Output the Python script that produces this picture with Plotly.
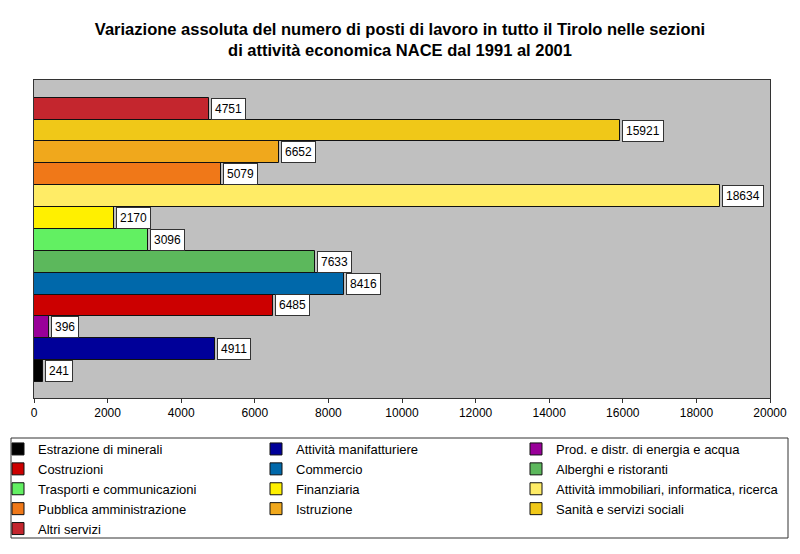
import plotly.graph_objects as go

categories = [
    "Estrazione di minerali",
    "Attività manifatturiere",
    "Prod. e distr. di energia e acqua",
    "Costruzioni",
    "Commercio",
    "Alberghi e ristoranti",
    "Trasporti e communicazioni",
    "Finanziaria",
    "Attività immobiliari, informatica, ricerca",
    "Pubblica amministrazione",
    "Istruzione",
    "Sanità e servizi sociali",
    "Altri servizi",
]
values = [241, 4911, 396, 6485, 8416, 7633, 3096, 2170, 18634, 5079, 6652, 15921, 4751]
colors = ["#000000", "#000099", "#990099", "#CC0000", "#0068AA", "#5CB85C",
          "#62F062", "#FFF000", "#FFEC66", "#F07818", "#F0A81C", "#F0C818", "#C4262E"]
x_ticks = [0, 2000, 4000, 6000, 8000, 10000, 12000, 14000, 16000, 18000, 20000]

FONT = "Liberation Sans, Arial, sans-serif"
legend_ids = ["legend", "legend2", "legend3"]

fig = go.Figure()
for i, (name, v, c) in enumerate(zip(categories, values, colors)):
    fig.add_trace(go.Bar(
        x=[v], y=[i], orientation="h", name=name, width=1,
        marker=dict(color=c, line=dict(color="#111111", width=1)),
        hoverinfo="x+name", legend=legend_ids[i % 3],
    ))
    fig.add_annotation(
        x=v, y=i, text=str(v), showarrow=False, xanchor="left", yanchor="middle",
        xshift=2, font=dict(family=FONT, size=12, color="#000000"),
        bgcolor="#FFFFFF", bordercolor="#333333", borderwidth=1, borderpad=3,
    )

# legend box
fig.add_shape(type="rect", xref="paper", yref="paper",
              x0=(11 - 34) / 736, x1=(788 - 34) / 736,
              y0=-(538 - 398) / 318, y1=-(438 - 398) / 318,
              line=dict(color="#333333", width=1), fillcolor="rgba(0,0,0,0)")

def leg(px_left):
    return dict(orientation="v", x=(px_left - 34) / 736, xanchor="left",
                y=-(434 - 398) / 318, yanchor="top",
                font=dict(family=FONT, size=13, color="#000000"),
                bgcolor="rgba(0,0,0,0)", borderwidth=0, traceorder="normal",
                itemclick=False, itemdoubleclick=False)

fig.update_layout(
    width=800, height=554,
    margin=dict(l=34, r=30, t=80, b=156, autoexpand=False),
    paper_bgcolor="#FFFFFF", plot_bgcolor="#C0C0C0",
    barmode="overlay", bargap=0,
    font=dict(family=FONT, size=12, color="#000000"),
    title=dict(
        text="<b>Variazione assoluta del numero di posti di lavoro in tutto il Tirolo nelle sezioni<br>di attività economica NACE dal 1991 al 2001</b>",
        x=0.5, xanchor="center", y=1 - 35 / 554, yanchor="top",
        font=dict(family=FONT, size=16.5, color="#000000"),
    ),
    xaxis=dict(range=[0, 20000], tickvals=x_ticks, ticktext=[str(t) for t in x_ticks],
               ticks="outside", ticklen=4, tickcolor="#333333",
               showline=True, linecolor="#333333", linewidth=1, mirror=True,
               showgrid=False, zeroline=False, fixedrange=True,
               tickfont=dict(family=FONT, size=12)),
    yaxis=dict(range=[-1.23, 13.31], showticklabels=False, ticks="",
               showline=True, linecolor="#333333", linewidth=1, mirror=True,
               showgrid=False, zeroline=False, fixedrange=True),
    legend=leg(-2),
    legend2=leg(256),
    legend3=leg(516),
    showlegend=True,
)

fig.write_html("out.html")
